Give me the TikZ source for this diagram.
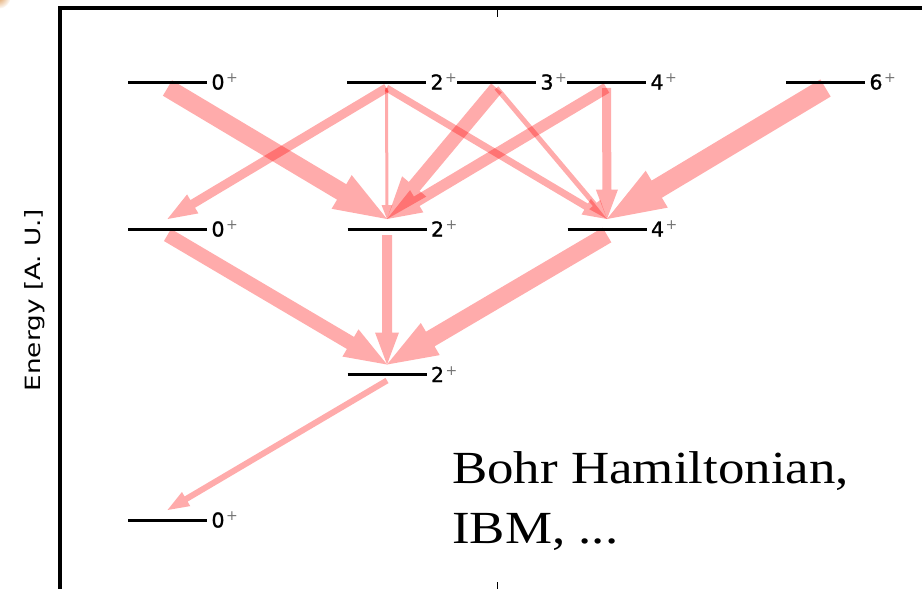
\documentclass[tikz,border=0pt]{standalone}
\usepackage{fontspec}
\setmainfont{Liberation Serif}
\newfontfamily\labelfont{DejaVu Sans}
\newfontfamily\lvlfont[FakeBold=1.2]{DejaVu Sans}
\usetikzlibrary{calc}

\tikzset{
  level/.style={line width=3pt},
  trans/.style={fill=red, fill opacity=0.33},
  lvllabel/.style={anchor=base west, inner sep=0pt,
    font=\lvlfont\fontsize{20.5}{20.5}\selectfont},
  frame/.style={line width=4pt},
}

% superscript parity sign
\newcommand\parity{\raisebox{7pt}{\kern1.5pt\labelfont\fontsize{14}{14}\selectfont\color{black!55}+}}

% tapered transition arrow: from level, to level, shaft width
\newcommand\transarrow[3]{%
  \pgfmathsetmacro\aw{#3/2}%
  \pgfmathsetmacro\ahw{(1.9*#3+5)/2}%
  \pgfmathsetmacro\ahl{2.6*#3+6}%
  \coordinate (aS) at ($(#1)+(0,6)$);
  \coordinate (aH) at ($(#2)+(0,-10)$);
  \coordinate (aB) at ($(aH)!\ahl pt!(aS)$);
  \fill[trans] ($(aS)!\aw pt!90:(aH)$) -- ($(aB)!\aw pt!90:(aH)$)
    -- ($(aB)!\ahw pt!90:(aH)$) -- (aH) -- ($(aB)!\ahw pt!-90:(aH)$)
    -- ($(aB)!\aw pt!-90:(aH)$) -- ($(aS)!\aw pt!-90:(aH)$) -- cycle;
}

% one level line with its spin-parity label
\newcommand\lvl[2]{%
  \draw[level] ($(#1)+(-39.5,0)$) -- ($(#1)+(39.5,0)$)
    node[lvllabel, shift={(3pt,-7.5pt)}] (#1lab) {#2\parity};
}

\begin{document}
\begin{tikzpicture}[x=1pt, y=-1pt]
  \useasboundingbox (0,0) rectangle (922,589);

  % small glow in the corner
  \begin{scope}
    \clip (0,0) rectangle (30,20);
    \shade[inner color=orange!80!black!70, outer color=white] (-2,-4) circle (13);
  \end{scope}

  % axes frame and ticks
  \draw[frame, line cap=rect] (60,592) -- (60,8) -- (926,8);
  \draw[line width=1pt] (497,10) -- (497,17);
  \draw[line width=1pt] (497,582) -- (497,589);

  % level positions
  \coordinate (t0) at (167.5,82);
  \coordinate (t2) at (386.5,82);
  \coordinate (t3) at (496.5,82);
  \coordinate (t4) at (606.5,82);
  \coordinate (t6) at (825.5,82);
  \coordinate (m0) at (167.5,229);
  \coordinate (m2) at (387,229);
  \coordinate (m4) at (607,229);
  \coordinate (r2) at (387,374.5);
  \coordinate (b0) at (167.5,520);

  % transitions
  \transarrow{t0}{m2}{18}
  \transarrow{t2}{m0}{9}
  \transarrow{t2}{m2}{3}
  \transarrow{t2}{m4}{7}
  \transarrow{t3}{m2}{14}
  \transarrow{t3}{m4}{5}
  \transarrow{t4}{m2}{11}
  \transarrow{t4}{m4}{9}
  \transarrow{t6}{m4}{20}
  \transarrow{m0}{r2}{14}
  \transarrow{m2}{r2}{10}
  \transarrow{m4}{r2}{17}
  \transarrow{r2}{b0}{6}

  % levels
  \lvl{t0}{0}
  \lvl{t2}{2}
  \lvl{t3}{3}
  \lvl{t4}{4}
  \lvl{t6}{6}
  \lvl{m0}{0}
  \lvl{m2}{2}
  \lvl{m4}{4}
  \lvl{r2}{2}
  \lvl{b0}{0}

  % axis label
  \node[rotate=90, anchor=base, inner sep=0pt,
        font=\labelfont\fontsize{21}{21}\selectfont] (ylab) at (41,300)
        {\scalebox{1.25}[1]{Energy [A. U.]}};

  % model note
  \node[anchor=base west, inner sep=0pt, font=\fontsize{46}{46}\selectfont]
    (note1) at (452,483) {\scalebox{1.15}[1]{Bohr Hamiltonian,}};
  \node[anchor=base west, inner sep=0pt, font=\fontsize{46}{46}\selectfont]
    (note2) at (452,543) {\scalebox{1.15}[1]{IBM, ...}};
\end{tikzpicture}
\end{document}
